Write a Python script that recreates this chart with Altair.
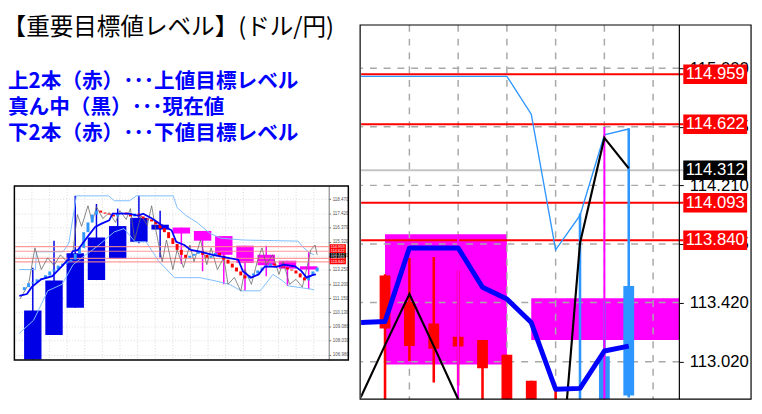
import altair as alt
import numpy as np
import pandas as pd

JP = "Noto Sans CJK JP"
NARROW = "Liberation Sans Narrow, Liberation Sans, Arial"

# ---------------- texts ----------------
TITLE = "【重要目標値レベル】(ドル/円)"
NOTES = ["上2本（赤）･･･上値目標レベル", "真ん中（黒）･･･現在値", "下2本（赤）･･･下値目標レベル"]

# ---------------- main (zoomed) chart ----------------
LEVELS = [114.959, 114.622, 114.093, 113.840]
CURRENT = [114.312]
MAIN_TICKS = [113.020, 113.420, 113.815, 114.210, 114.605, 115.000]

C_IDX = [0, 1, 2, 3, 4, 5, 6, 7, 8, 9, 10]
C_OPEN = [113.603, 113.424, 113.278, 113.190, 113.168, 113.068, 112.892, 112.700, 112.500, 112.700, 112.793]
C_HIGH = [113.610, 113.720, 113.727, 113.638, 113.168, 113.068, 112.892, 112.835, 114.020, 113.433, 114.596]
C_LOW = [112.600, 113.025, 112.881, 112.861, 112.600, 112.600, 112.600, 112.500, 112.450, 112.600, 112.780]
C_CLOSE = [113.245, 113.126, 113.108, 113.124, 112.976, 112.700, 112.700, 112.600, 112.700, 113.058, 113.532]

LINE_IDX = [-1, 0, 1, 2, 3, 4, 5, 6, 7, 8, 9, 10]
KIJUN = [113.285, 113.292, 113.788, 113.788, 113.788, 113.523, 113.444, 113.285, 112.835, 112.841, 113.093, 113.126]
CLOSE_LINE = [112.780, 113.133, 113.477, 113.126, 112.768, 112.400, 112.150, 111.950, 111.850, 113.821, 114.530, 114.325]
UPPER = [114.945, 114.945, 114.945, 114.945, 114.945, 114.945, 114.945, 114.690, 113.775, 114.007, 114.550, 114.590]

MAG_START = [0, 6]
MAG_END = [5, 12.5]
MAG_WICK = [3, 9]
MAG_OPEN = [113.881, 113.448]
MAG_CLOSE = [113.002, 113.168]
MAG_HIGH = [113.881, 114.603]
MAG_LOW = [112.600, 112.600]

GRID_MAIN_X = [1, 3, 5, 7, 9, 11]

# ---------------- thumbnail chart ----------------
THUMB_TICKS = [118.470, 117.420, 116.370, 115.320, 114.270, 113.250, 112.200, 111.150, 110.130, 109.080, 108.030, 106.980]

W_OPEN = [106.62, 108.43, 110.44, 112.49, 114.07, 115.32, 116.22, 116.37, 116.12, 115.74, 115.03, 114.36, 113.92, 113.51]
W_CLOSE = [110.25, 112.47, 114.48, 115.64, 116.48, 117.09, 116.58, 115.93, 115.40, 114.36, 113.76, 113.58, 113.34, 113.27]
W_HIGH = [113.41, 115.40, 118.71, 118.11, 117.77, 118.71, 117.62, 116.37, 116.12, 115.74, 115.03, 115.03, 113.92, 114.56]
W_LOW = [106.62, 108.43, 110.44, 112.49, 114.07, 115.21, 114.16, 113.68, 113.15, 112.18, 111.70, 112.78, 112.06, 111.82]

D_OPEN0 = 111.75
D_CLOSE = [111.97, 112.26, 112.33, 112.55, 112.62, 112.84, 113.13, 113.27, 113.56, 113.71,
           113.85, 114.00, 114.43, 114.87, 116.03, 116.75, 117.33, 117.62, 117.48, 117.40,
           117.33, 117.19, 117.40, 117.48, 117.33, 117.19, 117.40, 117.19, 117.04, 116.97,
           116.82, 116.61, 116.32, 116.03, 115.59, 115.16, 114.72, 114.36, 114.14, 114.29,
           114.43, 114.58, 114.36, 114.14, 114.29, 114.50, 114.29, 114.00, 113.71, 113.42,
           113.13, 112.84, 112.62, 112.84, 112.98, 113.20, 113.42, 113.56, 113.71, 113.56,
           113.49, 113.42, 113.27, 113.20, 112.98, 112.69, 112.47, 112.84, 113.13, 113.42]

G_DAY = [-1, 1, 2.5, 4, 5.5, 7, 8.5, 10, 11.5, 12.5, 13.5, 15, 16, 17, 18.5, 20, 21.5, 22.5, 24, 25,
         26, 27.5, 29, 30, 31, 32.5, 33.5, 35, 36, 37.5, 39, 40, 41.5, 43, 44, 45.5, 47, 48, 49.5, 51,
         52, 53.5, 55, 56, 57, 58.5, 60, 61, 62.5, 64, 65.5, 66.5, 67.5, 68.5, 69]
G_PRICE = [111.10, 112.18, 114.87, 113.27, 114.14, 113.56, 114.36, 113.85, 114.72, 117.33,
           116.46, 117.98, 116.75, 117.91, 117.04, 117.48, 116.75, 117.62, 116.97, 117.77,
           115.45, 117.26, 116.53, 117.98, 116.17, 113.85, 115.45, 113.27, 114.72, 113.42,
           115.08, 113.85, 115.45, 113.63, 114.87, 113.27, 114.14, 112.18, 112.69, 111.67,
           113.27, 112.18, 114.00, 114.87, 113.63, 114.36, 112.91, 113.85, 112.18, 112.55,
           111.97, 113.27, 114.72, 115.08, 114.36]

B_DAY = [-1.18, 0.61, 1.73, 3.97, 6.6, 8.84, 10.3, 11.4, 12.6, 15.2, 16.7, 18.2, 20.0, 20.8, 24.5,
         26.8, 28.0, 30.2, 32.5, 34.7, 35.8, 37.7, 39.2, 41.4, 44.4, 48.3, 50.4, 51.5, 53.4, 55.2,
         56.7, 59.4, 61.2, 63.8, 65.3, 66.5, 67.9, 68.7]
B_PRICE = [111.33, 111.46, 111.97, 112.55, 112.78, 113.51, 114.00, 114.60, 114.72, 115.81,
           116.41, 116.66, 116.90, 117.40, 117.40, 117.26, 117.40, 117.02, 116.53, 116.17,
           115.32, 115.08, 114.72, 114.60, 114.36, 114.12, 114.00, 113.15, 112.67, 112.91,
           113.51, 113.47, 113.63, 113.51, 113.15, 112.67, 112.86, 112.91]

U_DAY = [-1.18, 2.63, 2.85, 9.13, 10.5, 12.27, 19.9, 21.2, 24.8, 26.4, 35.1, 36.0, 38.1, 40.7,
         43.7, 46.3, 51.5, 64.5, 65.6, 67.2, 68.3]
U_PRICE = [113.27, 113.27, 114.58, 114.58, 115.23, 118.71, 118.71, 118.35, 118.35, 118.71, 118.71,
           117.84, 117.26, 116.75, 115.95, 115.59, 115.45, 115.37, 114.94, 114.50, 114.36]

L_DAY = [-1.18, 2.18, 5.54, 8.9, 11.5, 14.5, 17.1, 21.2, 23.5, 26.1, 28.7, 31.7, 35.4, 41.4,
         45.2, 48.3, 51.1, 55.6, 58.6, 60.9, 62.3, 67.6, 68.3]
L_PRICE = [108.56, 109.52, 111.70, 112.18, 113.63, 114.36, 114.96, 116.05, 116.29, 115.32, 115.32,
           113.87, 112.67, 112.67, 112.42, 112.18, 111.70, 111.70, 112.91, 112.42, 112.06, 111.82, 111.75]

# ---------------- styles ----------------
MAIN_UP, MAIN_DOWN = "#2E96FF", "#FF0000"
WEEK_UP, WEEK_DOWN = "#0000E6", "#FF00FF"
DAY_UP, DAY_DOWN = "#3399FF", "#FF0000"

# ======================= MAIN CHART =======================
WM, HM = 324, 381
XM = alt.Scale(domain=[-0.78, 11.875], nice=False, zero=False)
YM = alt.Scale(domain=[112.768, 115.2915], nice=False, zero=False)
YM_AXIS = alt.Axis(orient="right", values=MAIN_TICKS, format=".3f", grid=False, domain=False,
                   tickColor="black", tickSize=4, labelPadding=6, labelFont=NARROW,
                   labelFontSize=17, labelColor="black", title=None)


def mx(f):
    return alt.X(f, type="quantitative", scale=XM, axis=None)


def my(f):
    return alt.Y(f, type="quantitative", scale=YM, axis=YM_AXIS)


cd = pd.DataFrame({"i": C_IDX, "o": C_OPEN, "h": C_HIGH, "l": C_LOW, "c": C_CLOSE})
cd["col"] = np.where(cd["c"] >= cd["o"], MAIN_UP, MAIN_DOWN)

lines = pd.DataFrame({"i": LINE_IDX, "kijun": KIJUN, "close": CLOSE_LINE, "upper": UPPER})

mag = pd.DataFrame({"x0": MAG_START, "x1": MAG_END, "xw": MAG_WICK, "o": MAG_OPEN,
                    "c": MAG_CLOSE, "h": MAG_HIGH, "l": MAG_LOW})

lev = pd.DataFrame({"p": LEVELS})
cur = pd.DataFrame({"p": CURRENT})
BOX_HALF = 0.066

m_layers = [
    alt.Chart(mag).mark_rect(color="#FF00FF", clip=True).encode(
        x=mx("x0"), x2=alt.X2("x1"), y=my("o"), y2=alt.Y2("c")),
    alt.Chart(pd.DataFrame({"g": GRID_MAIN_X})).mark_rule(
        color="#A8A8A8", strokeDash=[7, 7], strokeWidth=1.5).encode(x=mx("g")),
    alt.Chart(pd.DataFrame({"g": MAIN_TICKS})).mark_rule(
        color="#A8A8A8", strokeDash=[7, 7], strokeWidth=1.5).encode(y=my("g")),
    alt.Chart(cur).mark_rule(color="#C4C4C4", strokeWidth=2).encode(
        y=my("p"), x=alt.value(0), x2=alt.value(328)),
    alt.Chart(lev).mark_rule(color="#FF0000", strokeWidth=2).encode(
        y=my("p"), x=alt.value(0), x2=alt.value(328)),
    alt.Chart(lines).mark_line(color="#2E96FF", strokeWidth=1.4, clip=True).encode(
        x=mx("i"), y=my("upper")),
    alt.Chart(cd).mark_rule(strokeWidth=2.6, clip=True).encode(
        x=mx("i"), y=my("l"), y2=alt.Y2("h"), color=alt.Color("col:N", scale=None)),
    alt.Chart(cd).mark_bar(size=11, clip=True).encode(
        x=mx("i"), y=my("o"), y2=alt.Y2("c"), color=alt.Color("col:N", scale=None)),
    alt.Chart(mag).mark_rule(color="#FF00FF", strokeWidth=2, clip=True).encode(
        x=mx("xw"), y=my("l"), y2=alt.Y2("h")),
    alt.Chart(lines).mark_line(color="black", strokeWidth=2.2, clip=True).encode(
        x=mx("i"), y=my("close")),
    alt.Chart(lines).mark_line(color="#0000FF", strokeWidth=5, clip=True, strokeJoin="round").encode(
        x=mx("i"), y=my("kijun")),
    alt.Chart(alt.Data(values=[{}])).mark_rule(color="black", strokeWidth=1.2).encode(
        x=alt.value(324)),
    alt.Chart(lev).transform_calculate(top=f"datum.p + {BOX_HALF}", bot=f"datum.p - {BOX_HALF}")
    .mark_rect(color="#FF0000").encode(
        x=alt.value(328), x2=alt.value(393), y=my("top"), y2=alt.Y2("bot")),
    alt.Chart(cur).transform_calculate(top=f"datum.p + {BOX_HALF}", bot=f"datum.p - {BOX_HALF}")
    .mark_rect(color="#000000").encode(
        x=alt.value(328), x2=alt.value(393), y=my("top"), y2=alt.Y2("bot")),
    alt.Chart(pd.DataFrame({"p": LEVELS + CURRENT})).mark_text(
        font=NARROW, fontSize=17, color="white", align="center", baseline="middle").encode(
        x=alt.value(360.5), y=my("p"), text=alt.Text("p:Q", format=".3f")),
    alt.Chart(alt.Data(values=[{}])).mark_rect(fillOpacity=0, stroke="black", strokeWidth=1.2).encode(
        x=alt.value(-1), x2=alt.value(397), y=alt.value(0), y2=alt.value(HM)),
]
main = alt.layer(*m_layers).properties(width=WM, height=HM)

# ======================= LEFT PANEL: texts + thumbnail =======================
WL, HL = 320, 341          # left panel (top aligned with main plot)
T_TOP, T_BOT = 164, 341    # thumbnail plot band inside the left panel
XT = alt.Scale(domain=[-1.18, 70.56], nice=False, zero=False)
YT = alt.Scale(domain=[106.596, 119.434], nice=False, zero=False, range=[T_BOT, T_TOP])
YT_AXIS = alt.Axis(orient="right", values=THUMB_TICKS, format=".3f", grid=True, gridColor="#D4D4D4",
                   gridDash=[1, 2], gridWidth=0.8, domainColor="#777777", domainWidth=1,
                   tickColor="#777777", tickSize=2, labelPadding=1.5, labelFontSize=4.6,
                   labelColor="#555555", labelFont="Liberation Sans", title=None)


def tx(f):
    return alt.X(f, type="quantitative", scale=XT, axis=None)


def ty(f):
    return alt.Y(f, type="quantitative", scale=YT, axis=YT_AXIS)


wk = pd.DataFrame({"k": range(len(W_OPEN)), "o": W_OPEN, "c": W_CLOSE, "h": W_HIGH, "l": W_LOW})
wk["x0"] = wk["k"] * 5 - 0.05
wk["x1"] = wk["k"] * 5 + 4.05
wk["xc"] = wk["k"] * 5 + 2
wk["col"] = np.where(wk["c"] >= wk["o"], WEEK_UP, WEEK_DOWN)

dy = pd.DataFrame({"d": range(len(D_CLOSE)), "c": D_CLOSE})
dy["o"] = [D_OPEN0] + D_CLOSE[:-1]
dy["col"] = np.where(dy["c"] >= dy["o"], DAY_UP, DAY_DOWN)

bands = pd.concat([
    pd.DataFrame({"d": U_DAY, "p": U_PRICE, "band": "upper"}),
    pd.DataFrame({"d": L_DAY, "p": L_PRICE, "band": "lower"}),
])
gray = pd.DataFrame({"d": G_DAY, "p": G_PRICE})
blue = pd.DataFrame({"d": B_DAY, "p": B_PRICE})
T_HALF = 0.18

NOTE_Y = [57.7, 84.7, 110.7]
l_layers = [
    alt.Chart(pd.DataFrame({"g": list(np.arange(1.8, 70.0, 4.15))})).mark_rule(
        color="#D0D0D0", strokeDash=[1, 2], strokeWidth=0.8).encode(
        x=tx("g"), y=alt.value(T_TOP), y2=alt.value(T_BOT)),
    alt.Chart(wk).mark_rule(strokeWidth=1.5).encode(
        x=tx("xc"), y=ty("l"), y2=alt.Y2("h"), color=alt.Color("col:N", scale=None)),
    alt.Chart(wk).mark_rect().encode(
        x=tx("x0"), x2=alt.X2("x1"), y=ty("o"), y2=alt.Y2("c"), color=alt.Color("col:N", scale=None)),
    alt.Chart(bands).mark_line(color="#7DBEFF", strokeWidth=1).encode(
        x=tx("d"), y=ty("p"), detail="band:N"),
    alt.Chart(lev).mark_rule(color="#FF8A8A", strokeWidth=1.2, opacity=0.85).encode(
        y=ty("p"), x=alt.value(0), x2=alt.value(321)),
    alt.Chart(gray).mark_line(color="#6A6A6A", strokeWidth=0.8).encode(
        x=tx("d"), y=ty("p")),
    alt.Chart(dy).mark_bar(size=3).encode(
        x=tx("d"), y=ty("o"), y2=alt.Y2("c"), color=alt.Color("col:N", scale=None)),
    alt.Chart(blue).mark_line(color="#0000FF", strokeWidth=1.8).encode(
        x=tx("d"), y=ty("p")),
    alt.Chart(lev).transform_calculate(top=f"datum.p + {T_HALF}", bot=f"datum.p - {T_HALF}")
    .mark_rect(color="#FF0000").encode(
        x=alt.value(321), x2=alt.value(337.5), y=ty("top"), y2=alt.Y2("bot")),
    alt.Chart(cur).transform_calculate(top=f"datum.p + {T_HALF}", bot=f"datum.p - {T_HALF}")
    .mark_rect(color="#000000").encode(
        x=alt.value(321), x2=alt.value(337.5), y=ty("top"), y2=alt.Y2("bot")),
    alt.Chart(pd.DataFrame({"p": LEVELS + CURRENT})).mark_text(
        font="Liberation Sans", fontSize=4, color="white", align="center", baseline="middle").encode(
        x=alt.value(329.2), y=ty("p"), text=alt.Text("p:Q", format=".3f")),
    alt.Chart(alt.Data(values=[{}])).mark_rect(fillOpacity=0, stroke="black", strokeWidth=1.5).encode(
        x=alt.value(0), x2=alt.value(340), y=alt.value(T_TOP), y2=alt.value(T_BOT)),
    alt.Chart(alt.Data(values=[{"t": TITLE}])).mark_text(
        align="left", baseline="middle", font=JP, fontSize=24, color="black").encode(
        x=alt.value(-12), y=alt.value(3.5), text="t:N"),
]
for s, yy in zip(NOTES, NOTE_Y):
    l_layers.append(
        alt.Chart(alt.Data(values=[{"t": s}])).mark_text(
            align="left", baseline="middle", font=JP, fontSize=21, fontWeight="bold",
            color="#0000FF").encode(x=alt.value(-6.5), y=alt.value(yy), text="t:N"))
left = alt.layer(*l_layers).properties(width=WL, height=HL)

chart = (
    alt.hconcat(left, main, spacing=33, bounds="flush")
    .properties(padding={"left": -5.5, "top": 4.7, "right": 2, "bottom": 2})
    .configure_view(stroke=None)
)
chart.save("out.html", embed_options={"renderer": "svg", "actions": False})
